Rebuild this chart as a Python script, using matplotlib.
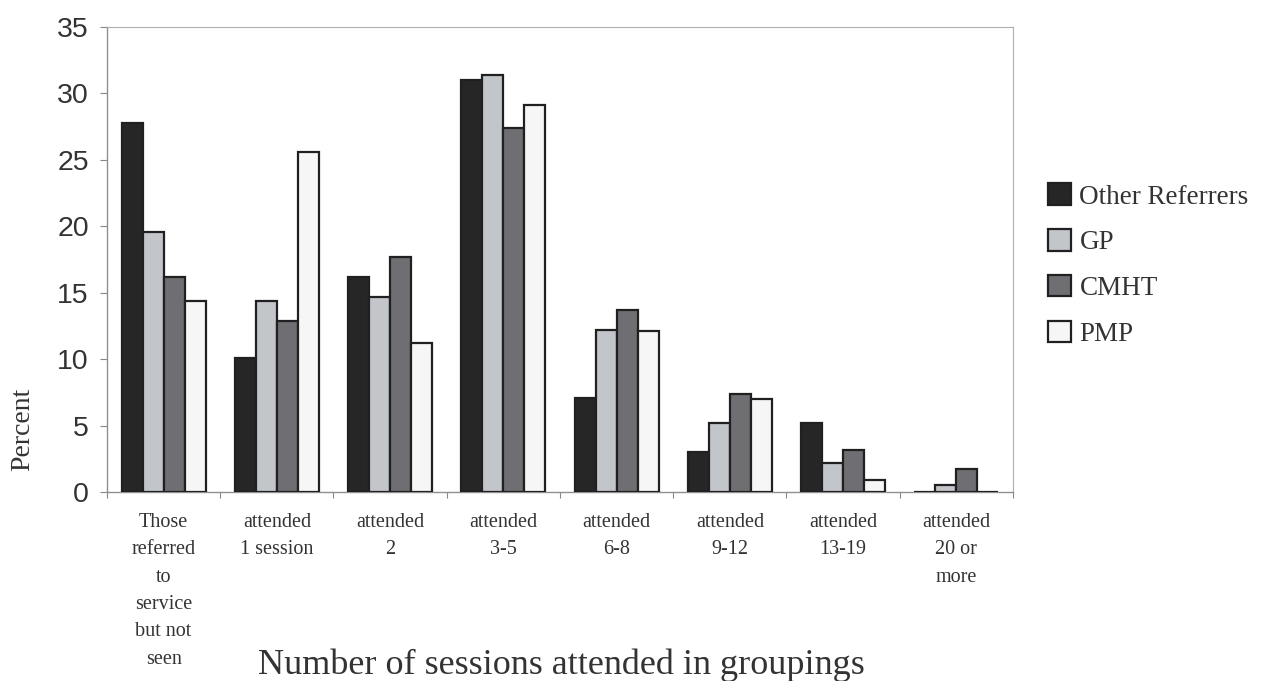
import matplotlib.pyplot as plt
import numpy as np

# data
categories = ["Those\nreferred\nto\nservice\nbut not\nseen", "attended\n1 session", "attended\n2",
              "attended\n3-5", "attended\n6-8", "attended\n9-12", "attended\n13-19",
              "attended\n20 or\nmore"]
series_names = ["Other Referrers", "GP", "CMHT", "PMP"]
other_referrers = [27.8, 10.1, 16.2, 31.0, 7.1, 3.0, 5.2, 0.0]
gp = [19.6, 14.4, 14.7, 31.4, 12.2, 5.2, 2.2, 0.5]
cmht = [16.2, 12.9, 17.7, 27.4, 13.7, 7.4, 3.2, 1.7]
pmp = [14.4, 25.6, 11.2, 29.1, 12.1, 7.0, 0.9, 0.0]
colors = ["#262626", "#c2c5ca", "#6f6f73", "#f6f6f6"]

values = [other_referrers, gp, cmht, pmp]

fig = plt.figure(figsize=(12.75, 6.81), dpi=100)
ax = fig.add_axes([0.0839, 0.2775, 0.7106, 0.6829])

x = np.arange(len(categories))
w = 0.185
for i in range(len(values)):
    ax.bar(x + (i - 1.5) * w, values[i], w, color=colors[i], edgecolor="#202020",
           linewidth=1.6, label=series_names[i], zorder=3)

ax.set_xlim(-0.5, len(categories) - 0.5)
ax.set_ylim(0, 35)
ax.set_yticks(range(0, 36, 5))
ax.set_yticklabels([str(v) for v in range(0, 36, 5)], fontsize=20.5,
                   family="Liberation Sans", color="#333333")
ax.set_xticks(np.arange(len(categories) + 1) - 0.5)
ax.set_xticklabels([])
ax.set_xticks(x, minor=True)
ax.set_xticklabels(categories, minor=True, fontsize=14.5, family="Liberation Serif",
                   color="#333333", linespacing=1.6)
ax.tick_params(axis="x", which="minor", length=0, pad=15)
ax.tick_params(axis="x", which="major", length=4, color="#888888", direction="out")
ax.tick_params(axis="y", length=5, color="#888888", direction="out", pad=8)

for s in ["top", "right"]:
    ax.spines[s].set_color("#b0b0b0")
    ax.spines[s].set_linewidth(0.8)
for s in ["left", "bottom"]:
    ax.spines[s].set_color("#909090")
    ax.spines[s].set_linewidth(1.0)

ax.set_ylabel("Percent", fontsize=20, family="Liberation Serif", color="#333333")
ax.yaxis.set_label_coords(-0.079, 0.135)
fig.text(0.44, 0.0105, "Number of sessions attended in groupings", fontsize=26,
         family="Liberation Serif", color="#333333", ha="center", va="baseline")

ax.legend(loc="center left", bbox_to_anchor=(1.012, 0.488), frameon=False,
          prop={"family": "Liberation Serif", "size": 19.5}, handlelength=0.85,
          handleheight=0.85, handletextpad=0.3, labelspacing=0.72, labelcolor="#333333")

plt.savefig("out.png")
